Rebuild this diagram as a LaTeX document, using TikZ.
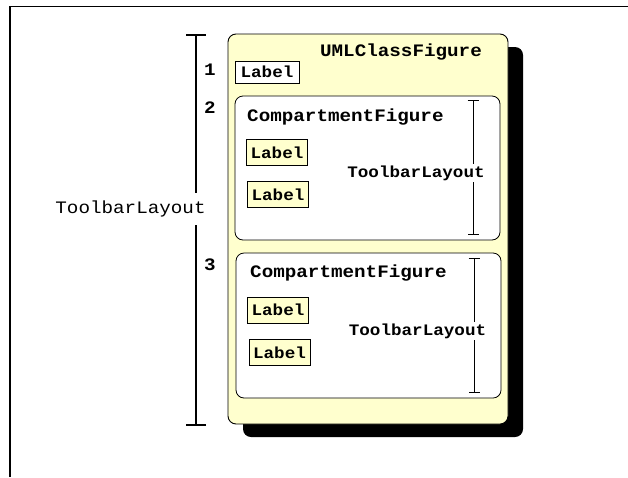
\documentclass[tikz,border=0pt]{standalone}
\usepackage{fontspec}
\usetikzlibrary{positioning}
\usetikzlibrary{shadows}
\usetikzlibrary{arrows.meta}
\newfontfamily\figfont[FakeStretch=1.1]{Liberation Mono}
\definecolor{paleyellow}{RGB}{255,255,206}

\begin{document}
\begin{tikzpicture}[
            x = 1pt, y = -1pt, % pixel like units, y going down
            figtext/.style = {font=\figfont\fontsize{17.5}{19}\selectfont\bfseries, inner sep=1pt},
            plaintext/.style = {font=\figfont\fontsize{17.5}{19}\selectfont, inner sep=1pt},
            labeltext/.style = {font=\figfont\fontsize{16}{18}\selectfont\bfseries},
            classbox/.style = {draw, line width=0.9pt, fill=paleyellow, rounded corners=8pt,
                drop shadow={shadow xshift=15pt, shadow yshift=-13pt, fill=black, opacity=1}},
            compbox/.style = {draw, line width=0.8pt, fill=white, rounded corners=8pt},
            labelbox/.style = {draw, line width=0.8pt, fill=paleyellow, labeltext, inner sep=0pt,
                minimum width=61pt, minimum height=26pt},
            bigbar/.style = {line width=2pt, {Bar[width=20pt]}-{Bar[width=20pt]}},
            smallbar/.style = {line width=0.8pt, {Bar[width=11pt]}-{Bar[width=11pt]}},
            node distance = 15pt
        ]

        \useasboundingbox (0,0) rectangle (628,477);
        \draw[line width=1.5pt] (10,477) -- (10,6.5) -- (628,6.5);

	% class figure
        \node[classbox, minimum width=280pt, minimum height=390pt] (uml) at (368,229) {};
        \node[figtext] (umltitle) at (401,52) {UMLClassFigure};
        \node[labelbox, fill=white, minimum width=64pt, minimum height=22pt] (lab1) at (267,72) {Label};

        % first compartment
        \node[compbox, minimum width=265pt, minimum height=144pt] (comp1) at (367.5,168) {};
        \node[figtext, anchor=west] (comp1title) at (246,117) {CompartmentFigure};
        \node[labelbox] (lab2a) at (277,152.5) {Label};
        \node[labelbox] (lab2b) [below=15pt of lab2a.south, anchor=north, xshift=1pt] {Label};

        % second compartment
        \node[compbox, minimum width=265pt, minimum height=145pt] (comp2) at (368.5,325.5) {};
        \node[figtext, anchor=west] (comp2title) at (249,273) {CompartmentFigure};
        \node[labelbox] (lab3a) at (278,310) {Label};
        \node[labelbox] (lab3b) [below=16pt of lab3a.south, anchor=north, xshift=1.5pt] {Label};

        % layouts
        \coordinate (bartop) at (196,34);
        \coordinate (barbot) at (196,426);
        \draw[bigbar] (bartop) -- (barbot);
        \node[plaintext, fill=white, inner xsep=2pt, inner ysep=8pt] (outer) at (130.5,209) {ToolbarLayout};

        \coordinate (c1top) at (473,100);
        \coordinate (c1bot) at (473,235);
        \draw[smallbar] (c1top) -- (c1bot);
        \node[labeltext, fill=white, inner xsep=1pt, inner ysep=2pt] (inner1) at (416,173) {ToolbarLayout};

        \coordinate (c2top) at (474,258);
        \coordinate (c2bot) at (474,393);
        \draw[smallbar] (c2top) -- (c2bot);
        \node[labeltext, fill=white, inner xsep=1pt, inner ysep=2pt] (inner2) at (417.5,331) {ToolbarLayout};

        % child numbers
        \node[figtext] (n1) at (210,70) {1};
        \node[figtext] (n2) at (210,108) {2};
        \node[figtext] (n3) at (210,265) {3};

\end{tikzpicture}
\end{document}
